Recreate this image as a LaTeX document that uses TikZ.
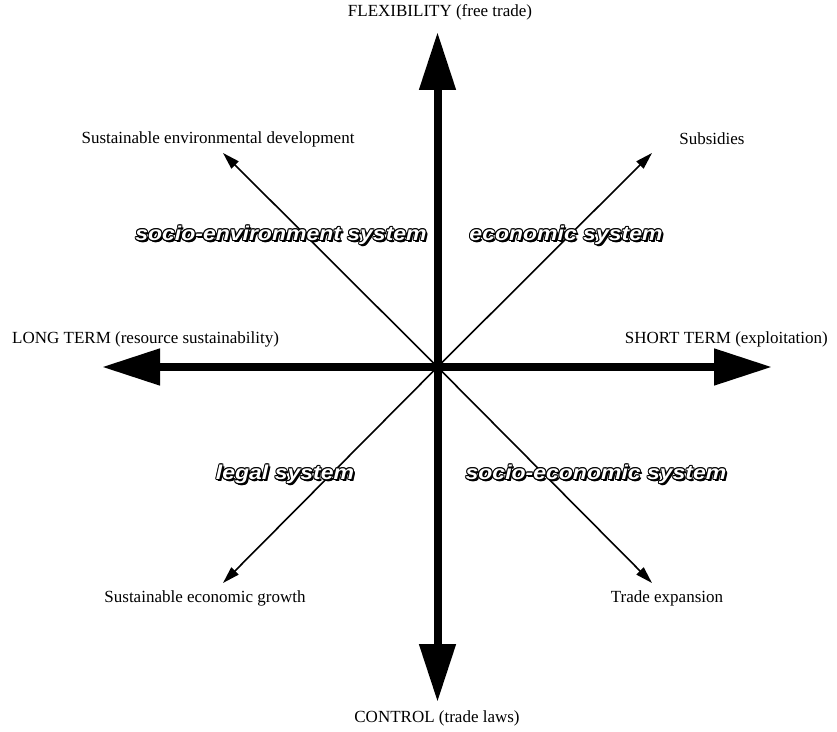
\documentclass[tikz,border=0pt]{standalone}
\usepackage{fontspec}
\setmainfont{Liberation Serif}
\newfontfamily\outfont[FakeStretch=1.15]{Liberation Sans}
\usetikzlibrary{arrows.meta}
\newcommand\olay[3]{\makebox[0pt][l]{\hspace{#1}\raisebox{#2}{#3}}}
\newcommand\outlinetext[1]{%
  \olay{2pt}{-2pt}{#1}\olay{1.5pt}{-1.5pt}{#1}%
  \olay{1pt}{0pt}{#1}\olay{-1pt}{0pt}{#1}%
  \olay{0pt}{1pt}{#1}\olay{0pt}{-1pt}{#1}%
  \olay{0.7pt}{0.7pt}{#1}\olay{-0.7pt}{0.7pt}{#1}%
  \olay{0.7pt}{-0.7pt}{#1}\olay{-0.7pt}{-0.7pt}{#1}%
  \textcolor{white}{#1}}
\tikzset{
  bigarrow/.style={line width=8pt,-{Triangle[length=58pt,width=35pt]}},
  thinarrow/.style={line width=1.6pt,-{Triangle[length=17pt,width=10pt]}},
  lbl/.style={font=\fontsize{17}{19}\selectfont,inner sep=0pt},
  sys/.style={font=\outfont\bfseries\itshape\fontsize{20}{22}\selectfont,inner sep=0pt}
}
\begin{document}
\begin{tikzpicture}[x=1pt,y=1pt]
\useasboundingbox (0,0) rectangle (837,731);
\coordinate (C) at (437.5,364);
\coordinate (T) at (437.5,699);
\coordinate (B) at (437.5,29);
\coordinate (L) at (102,364);
\coordinate (R) at (772,364);
\coordinate (TL) at (223,578);
\coordinate (TR) at (652,578);
\coordinate (BL) at (223,148);
\coordinate (BR) at (652,148);
\draw[thinarrow] (C) -- (TL);
\draw[thinarrow] (C) -- (TR);
\draw[thinarrow] (C) -- (BL);
\draw[thinarrow] (C) -- (BR);
\draw[bigarrow] (C) -- (T);
\draw[bigarrow] (C) -- (B);
\draw[bigarrow] (C) -- (L);
\draw[bigarrow] (C) -- (R);
\node[lbl] (flex) at (440,719) {FLEXIBILITY (free trade)};
\node[lbl] (ctrl) at (437,13) {CONTROL (trade laws)};
\node[lbl,anchor=west] (long) at (12,392) {LONG TERM (resource sustainability)};
\node[lbl,anchor=east] (short) at (828,392) {SHORT TERM (exploitation)};
\node[lbl] (sed) at (218,592) {Sustainable environmental development};
\node[lbl] (sub) at (712,592) {Subsidies};
\node[lbl] (seg) at (205,133) {Sustainable economic growth};
\node[lbl] (trade) at (667,133) {Trade expansion};
\node[sys] (s1) at (281,495) {\outlinetext{socio-environment system}};
\node[sys] (s2) at (566,495) {\outlinetext{economic system}};
\node[sys] (s3) at (285,256) {\outlinetext{legal system}};
\node[sys] (s4) at (596,256) {\outlinetext{socio-economic system}};
\end{tikzpicture}
\end{document}
